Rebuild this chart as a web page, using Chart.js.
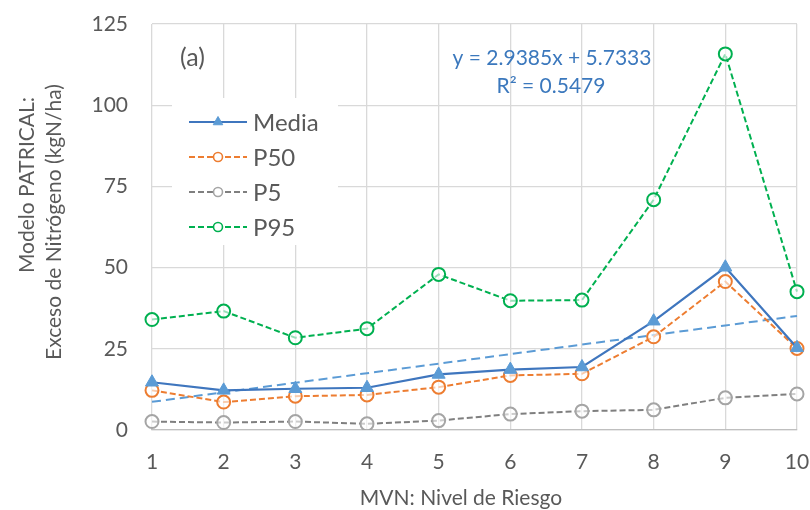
<!DOCTYPE html>
<html>
<head>
<meta charset="utf-8">
<script src="https://cdn.jsdelivr.net/npm/chart.js@4.4.1/dist/chart.umd.min.js"></script>
<style>
  html, body { margin: 0; padding: 0; background: #ffffff; }
  #wrap { width: 810px; height: 510px; }
</style>
</head>
<body>
<div id="wrap"><canvas id="c" width="810" height="510"></canvas></div>
<script>
// MVN risk levels
const riskLevels = ['1', '2', '3', '4', '5', '6', '7', '8', '9', '10'];

// Nitrogen surplus (kgN/ha), PATRICAL model
const media = [14.7, 12.2, 12.7, 13.0, 17.1, 18.6, 19.4, 33.5, 50.1, 25.3];
const p50   = [12.2,  8.6, 10.4, 10.8, 13.2, 16.8, 17.3, 28.7, 45.7, 25.1];
const p5    = [ 2.6,  2.3,  2.6,  1.9,  2.9,  4.9,  5.8,  6.2,  9.9, 11.1];
const p95   = [34.0, 36.6, 28.4, 31.2, 47.9, 39.8, 40.0, 70.9, 115.8, 42.6];

// Linear trend of the mean series
const trendSlope = 2.9385;
const trendIntercept = 5.7333;
const trendR2 = 0.5479;

const yTicks = [0, 25, 50, 75, 100, 125];

const FONT = 'Lato, "Open Sans", sans-serif';
const TEXT = '#595959';

const trend = riskLevels.map(v => trendSlope * Number(v) + trendIntercept);

// Legend box, panel label, equation and axis titles
const annotations = {
  id: 'annotations',
  afterDatasetsDraw(chart) {
    const ctx = chart.ctx;
    ctx.save();

    // legend background
    ctx.fillStyle = '#ffffff';
    ctx.fillRect(172, 98, 166, 147);

    const rowY = [122, 157, 192, 227];
    [0, 1, 2, 3].forEach((di, i) => {
      const ds = chart.data.datasets[di];
      const y = rowY[i];
      ctx.save();
      ctx.strokeStyle = ds.borderColor;
      ctx.lineWidth = ds.borderWidth;
      ctx.setLineDash(ds.borderDash || []);
      ctx.beginPath();
      ctx.moveTo(189, y);
      ctx.lineTo(247, y);
      ctx.stroke();
      ctx.restore();
      ctx.save();
      ctx.fillStyle = ds.pointStyle === 'triangle' ? ds.pointBackgroundColor : '#ffffff';
      ctx.strokeStyle = ds.pointBorderColor;
      ctx.lineWidth = ds.pointStyle === 'triangle' ? 1 : 1.6;
      Chart.helpers.drawPoint(ctx, {
        pointStyle: ds.pointStyle,
        radius: ds.pointStyle === 'triangle' ? 5.5 : 4.5,
        borderWidth: ctx.lineWidth
      }, 218, y);
      ctx.restore();
      ctx.fillStyle = TEXT;
      ctx.font = '24px ' + FONT;
      ctx.textAlign = 'left';
      ctx.textBaseline = 'middle';
      ctx.fillText(ds.label, 253, y + 1);
    });

    // panel label
    ctx.fillStyle = TEXT;
    ctx.font = '25px ' + FONT;
    ctx.textAlign = 'left';
    ctx.textBaseline = 'middle';
    ctx.fillText('(a)', 180, 58);

    // trend equation
    ctx.fillStyle = '#3B78BD';
    ctx.font = '21px ' + FONT;
    ctx.textAlign = 'center';
    ctx.fillText('y = ' + trendSlope.toFixed(4) + 'x + ' + trendIntercept.toFixed(4), 552, 58);
    ctx.fillText('R\u00B2 = ' + trendR2.toFixed(4), 551, 86);

    // axis titles
    ctx.fillStyle = TEXT;
    ctx.font = '21px ' + FONT;
    ctx.textAlign = 'center';
    ctx.textBaseline = 'middle';
    ctx.fillText('MVN: Nivel de Riesgo', 461, 498);

    ctx.save();
    ctx.translate(27, 185);
    ctx.rotate(-Math.PI / 2);
    ctx.fillText('Modelo PATRICAL:', 0, 0);
    ctx.restore();
    ctx.save();
    ctx.translate(54, 222);
    ctx.rotate(-Math.PI / 2);
    ctx.fillText('Exceso de Nitr\u00F3geno (kgN/ha)', 0, 0);
    ctx.restore();

    ctx.restore();
  }
};

const circle = (color, line, dash) => ({
  borderColor: line,
  borderWidth: 2,
  borderDash: dash,
  pointStyle: 'circle',
  pointRadius: 6.5,
  pointBackgroundColor: 'rgba(255,255,255,0.6)',
  pointBorderColor: color,
  pointBorderWidth: 2
});

new Chart(document.getElementById('c'), {
  type: 'line',
  data: {
    labels: riskLevels,
    datasets: [
      {
        label: 'Media',
        data: media,
        borderColor: '#3F76BE',
        borderWidth: 2.2,
        borderDash: [],
        pointStyle: 'triangle',
        pointRadius: 7.5,
        pointBackgroundColor: '#5B9BD5',
        pointBorderColor: '#5B9BD5',
        pointBorderWidth: 1
      },
      Object.assign({ label: 'P50', data: p50 }, circle('#ED7D31', '#ED7D31', [6, 3])),
      Object.assign({ label: 'P5', data: p5 }, circle('#A5A5A5', '#7F7F7F', [6, 3])),
      Object.assign({ label: 'P95', data: p95 }, circle('#00B050', '#00B050', [6, 3])),
      {
        label: 'Tendencia',
        data: trend,
        borderColor: '#5B9BD5',
        borderWidth: 2,
        borderDash: [9, 5],
        pointRadius: 0,
        pointHoverRadius: 0
      }
    ]
  },
  options: {
    responsive: false,
    animation: false,
    events: [],
    layout: { padding: { top: 24, right: 13, left: 0, bottom: 0 } },
    plugins: {
      legend: { display: false },
      tooltip: { enabled: false }
    },
    scales: {
      x: {
        type: 'category',
        offset: false,
        grid: { color: '#D9D9D9', lineWidth: 1.3, drawTicks: false },
        border: { color: '#BFBFBF', width: 1.3 },
        ticks: {
          color: TEXT,
          font: { family: FONT, size: 21 },
          padding: 20,
          maxRotation: 0
        },
        afterFit(scale) {
          scale.height = 80;
          scale.paddingLeft = 0;
          scale.paddingRight = 0;
        }
      },
      y: {
        min: 0,
        max: 125,
        grid: { color: '#D9D9D9', lineWidth: 1.3, drawTicks: false },
        border: { display: false },
        afterBuildTicks(scale) { scale.ticks = yTicks.map(v => ({ value: v })); },
        ticks: {
          color: TEXT,
          font: { family: FONT, size: 21 },
          padding: 24
        },
        afterFit(scale) {
          scale.width = 152;
          scale.paddingTop = 0;
          scale.paddingBottom = 0;
        }
      }
    }
  },
  plugins: [annotations]
});
</script>
</body>
</html>
